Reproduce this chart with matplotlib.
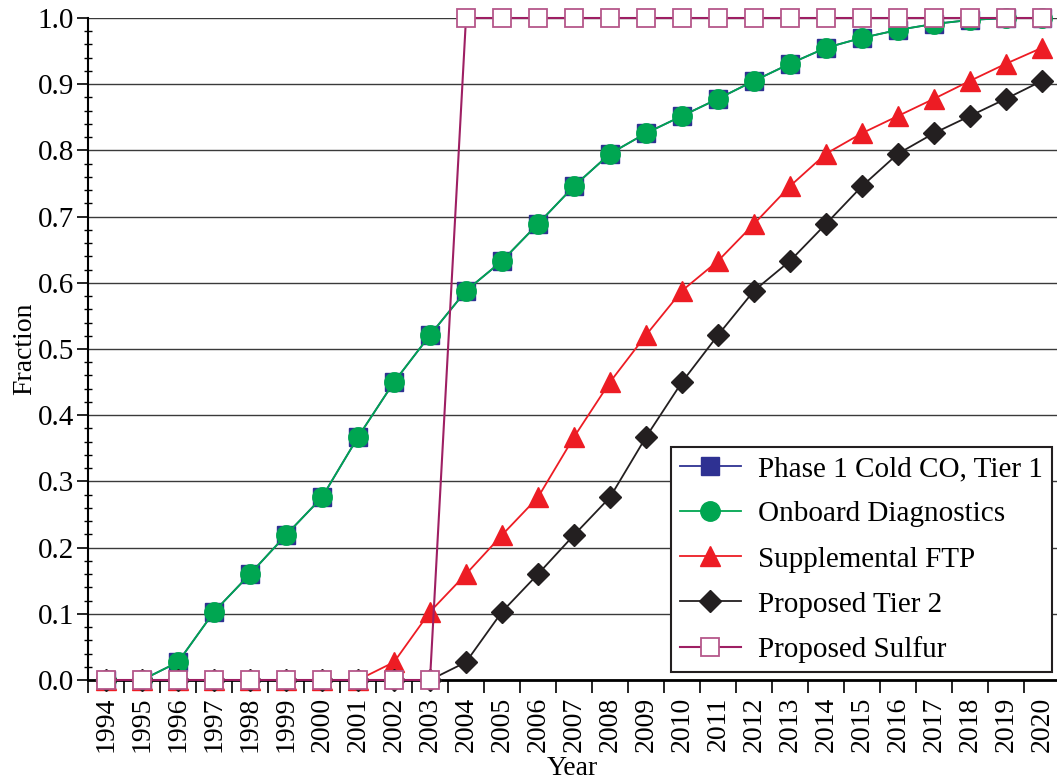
import numpy as np
import matplotlib
matplotlib.use("Agg")
import matplotlib.pyplot as plt
from matplotlib.ticker import FixedLocator, MultipleLocator, NullFormatter

plt.rcParams['font.family'] = ['Liberation Serif', 'DejaVu Serif']

years = list(range(1994, 2021))

# phase-in fractions by model year
cold_co_tier1 = [0.0, 0.0, 0.027, 0.103, 0.160, 0.219, 0.276, 0.367, 0.450, 0.521,
                 0.588, 0.633, 0.689, 0.746, 0.795, 0.826, 0.852, 0.878, 0.905,
                 0.931, 0.955, 0.970, 0.982, 0.991, 0.997, 1.0, 1.0]
onboard_diag = [0.0, 0.0, 0.027, 0.103, 0.160, 0.219, 0.276, 0.367, 0.450, 0.521,
                0.588, 0.633, 0.689, 0.746, 0.795, 0.826, 0.852, 0.878, 0.905,
                0.931, 0.955, 0.970, 0.982, 0.991, 0.997, 1.0, 1.0]
supp_ftp = [0.0, 0.0, 0.0, 0.0, 0.0, 0.0, 0.0, 0.0, 0.027, 0.103, 0.160, 0.219,
            0.276, 0.367, 0.450, 0.521, 0.588, 0.633, 0.689, 0.746, 0.795,
            0.826, 0.852, 0.878, 0.905, 0.931, 0.955]
tier2 = [0.0, 0.0, 0.0, 0.0, 0.0, 0.0, 0.0, 0.0, 0.0, 0.0, 0.027, 0.103, 0.160,
         0.219, 0.276, 0.367, 0.450, 0.521, 0.588, 0.633, 0.689, 0.746, 0.795,
         0.826, 0.852, 0.878, 0.905]
sulfur = [0.0] * 10 + [1.0] * 17

fig = plt.figure(figsize=(10.57, 7.82), dpi=100)
ax = fig.add_axes([88 / 1057, 102 / 782, 1 - 88 / 1057, 662 / 782])

ax.set_axisbelow(True)
ax.yaxis.grid(True, which='major', color='#3a3a3a', linewidth=1.0)

ax.plot(years, cold_co_tier1, color='#2E3192', marker='s', markersize=13.5,
        markerfacecolor='#2E3192', markeredgecolor='#2E3192', linewidth=1.3,
        label='Phase 1 Cold CO, Tier 1', clip_on=False, zorder=3)
ax.plot(years, onboard_diag, color='#00A651', marker='o', markersize=14,
        markerfacecolor='#00A651', markeredgecolor='#00A651', linewidth=1.3,
        label='Onboard Diagnostics', clip_on=False, zorder=4)
ax.plot(years, supp_ftp, color='#ED1C24', marker='^', markersize=15,
        markerfacecolor='#ED1C24', markeredgecolor='#ED1C24', linewidth=1.3,
        label='Supplemental FTP', clip_on=False, zorder=5)
ax.plot(years, tier2, color='#231F20', marker='D', markersize=11,
        markerfacecolor='#231F20', markeredgecolor='#231F20', linewidth=1.3,
        label='Proposed Tier 2', clip_on=False, zorder=6)
ax.plot(years, sulfur, color='#9E1F63', marker='s', markersize=13.5,
        markerfacecolor='white', markeredgecolor='#B5578A', markeredgewidth=1.3,
        linewidth=1.5, label='Proposed Sulfur', clip_on=False, zorder=7)

ax.set_xlim(1993.5, 1993.5 + 969 / 36)
ax.set_ylim(0, 1.0)

# tick marks sit between years, labels sit on the years
ax.xaxis.set_major_locator(FixedLocator(np.arange(1993.5, 2021, 1.0)))
ax.xaxis.set_major_formatter(NullFormatter())
ax.set_xticks(years, [str(y) for y in years], minor=True)
ax.tick_params(axis='x', which='major', direction='out', length=9, width=1.2)
ax.tick_params(axis='x', which='minor', length=0, labelsize=20, rotation=90, pad=12)

ax.yaxis.set_major_locator(MultipleLocator(0.1))
ax.yaxis.set_minor_locator(MultipleLocator(0.02))
ax.yaxis.set_major_formatter(lambda v, p: f"{v:.1f}")
ax.tick_params(axis='y', which='major', direction='out', length=8, width=1.2,
               labelsize=21, pad=2)
ax.tick_params(axis='y', which='minor', direction='inout', length=6, width=1.0)

for side in ['top', 'right']:
    ax.spines[side].set_visible(False)
ax.spines['left'].set_linewidth(1.5)
ax.spines['bottom'].set_linewidth(2.0)

ax.set_xlabel('Year', fontsize=20, labelpad=2.5)
ax.set_ylabel('Fraction', fontsize=20, labelpad=0.5)

leg = ax.legend(loc='lower right', bbox_to_anchor=(1052 / 1057, 110 / 782),
                bbox_transform=fig.transFigure, fontsize=21, numpoints=1,
                frameon=True, fancybox=False, framealpha=1.0, edgecolor='#231F20',
                handlelength=2.1, handletextpad=0.6, labelspacing=0.64,
                borderpad=0.3, borderaxespad=0)
leg.get_frame().set_linewidth(1.5)

fig.savefig('out.png', dpi=100)
